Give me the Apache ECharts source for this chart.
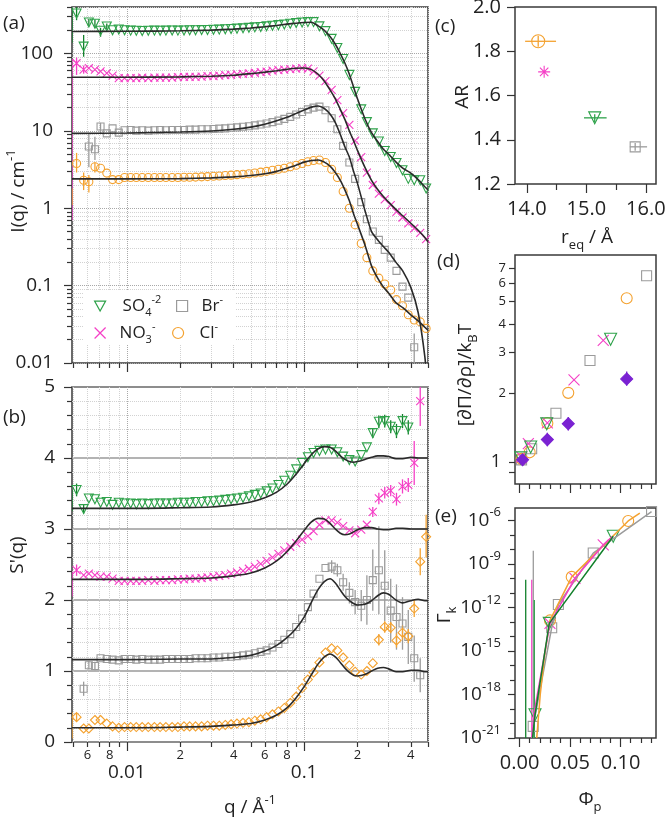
<!DOCTYPE html>
<html><head><meta charset="utf-8">
<script src="https://cdn.jsdelivr.net/npm/echarts@6/dist/echarts.min.js"></script>
<style>html,body{margin:0;padding:0;background:#fff}#c{width:666px;height:820px}</style>
</head><body><div id="c"></div><script>
// ---------------- DATA ----------------
const Q = [
 0.0052,0.0057,0.0061,0.0066,0.0071,0.0077,0.0083,0.0090,0.0097,0.0105,
 0.0113,0.0122,0.0132,0.0143,0.0154,0.0166,0.0180,0.0194,0.0210,0.0226,
 0.0244,0.0264,0.0285,0.0308,0.0332,0.0359,0.0387,0.0418,0.0452,0.0488,
 0.0527,0.0569,0.0614,0.0663,0.0716,0.0773,0.0835,0.0902,0.0974,0.105,
 0.113,0.122,0.132,0.143,0.154,0.166,0.180,0.194,0.210,0.226,
 0.244,0.264,0.285,0.308,0.332,0.359,0.387,0.418,0.452,0.488];
const I_SO4 = [
 330,123,252,243,197,224,200,205,200,198,
 197,196,197,198,197,198,199,198,199,200,
 200,201,202,203,204,206,208,210,212,215,
 218,221,225,229,233,238,243,248,252,255,
 255,225,195,155,118,85,53,32,19,13,
 9.3,7.3,5.5,4.6,3.85,3.1,2.4,2.3,2.3,1.8];
const I_NO3 = [
 75,62,65,62,59,56,52,48,48,48,
 48,49,48,49,49,49,49,49.5,50,50,
 50,50.5,51,51,52,52.5,53,54,54.5,55.5,
 56.5,57.5,58.5,60,61,62,63,64,65,64,
 59,52,44,34,25,17,12,7.5,4.6,2.9,
 2.0,1.55,1.3,1.1,0.9,0.76,0.64,0.55,0.48,0.4];
const I_BR = [
 null,null,6.3,5.8,11.4,9.3,10.8,9.5,10.2,10.3,
 10.1,10.2,10.1,10.2,10.3,10.2,10.3,10.3,10.3,10.4,
 10.4,10.5,10.5,10.6,10.7,10.8,11.0,11.1,11.3,11.5,
 11.8,12.1,12.5,13.0,13.6,14.3,15.2,16.3,17.6,19.0,
 20.0,20.6,18.5,14.6,10.5,6.4,3.9,2.4,1.2,0.72,
 0.5,0.39,0.29,0.23,0.155,0.097,0.07,0.016,null,null];
const I_CL = [
 3.8,2.3,2.2,3.45,3.3,2.85,2.35,2.35,2.5,2.5,
 2.5,2.5,2.5,2.5,2.5,2.5,2.5,2.5,2.52,2.52,
 2.53,2.55,2.57,2.6,2.62,2.65,2.68,2.72,2.76,2.8,
 2.86,2.93,3.0,3.1,3.2,3.3,3.45,3.6,3.8,4.0,
 4.15,4.2,3.9,3.2,2.5,1.65,1.0,0.61,0.35,0.23,
 0.155,0.125,0.105,0.088,0.066,0.055,0.042,0.036,0.034,0.028];
const S_SO4 = [
 3.55,3.28,3.43,3.42,3.37,3.38,3.34,3.37,3.36,3.36,
 3.35,3.36,3.35,3.36,3.36,3.36,3.36,3.37,3.37,3.37,
 3.38,3.38,3.39,3.39,3.40,3.41,3.42,3.43,3.44,3.46,
 3.48,3.50,3.53,3.57,3.62,3.68,3.75,3.84,3.93,4.01,
 4.07,4.10,4.12,4.12,4.08,4.02,3.97,3.95,4.04,4.15,
 4.35,4.51,4.52,4.44,4.38,4.52,4.43,null,null,null];
const S_NO3 = [
 2.42,2.35,2.37,2.35,2.33,2.33,2.30,2.27,2.27,2.27,
 2.27,2.27,2.28,2.27,2.28,2.28,2.28,2.29,2.29,2.30,
 2.30,2.31,2.32,2.33,2.34,2.35,2.37,2.39,2.41,2.44,
 2.47,2.51,2.55,2.60,2.65,2.70,2.75,2.80,2.85,2.90,
 2.97,3.06,3.12,3.12,3.09,3.04,2.98,2.94,2.99,3.06,
 3.24,3.43,3.51,3.54,3.42,3.60,3.62,3.93,4.80,null];
const S_BR = [
 null,0.75,1.08,1.07,1.18,1.17,1.16,1.15,1.17,1.17,
 1.16,1.17,1.16,1.16,1.16,1.17,1.17,1.17,1.17,1.17,
 1.18,1.18,1.18,1.19,1.19,1.20,1.20,1.21,1.22,1.23,
 1.25,1.27,1.29,1.33,1.38,1.44,1.52,1.62,1.74,1.90,
 2.09,2.30,2.45,2.47,2.42,2.25,2.10,1.97,1.92,2.00,
 2.28,2.42,2.20,1.85,1.76,1.67,1.48,1.18,0.94,null];
const S_CL = [
 0.35,0.19,0.19,0.31,0.31,0.26,0.22,0.20,0.21,0.21,
 0.21,0.21,0.21,0.21,0.21,0.21,0.21,0.21,0.22,0.22,
 0.22,0.22,0.23,0.23,0.23,0.24,0.25,0.26,0.27,0.28,
 0.30,0.32,0.35,0.39,0.43,0.48,0.55,0.64,0.76,0.88,
 0.98,1.12,1.26,1.32,1.29,1.19,1.08,0.99,0.95,1.00,
 1.11,1.44,1.62,1.61,1.43,1.54,1.49,1.88,2.54,2.89];

const QF = [0.0049,0.01,0.02,0.03,0.04,0.05,0.06,0.07,0.08,0.09,0.1,0.11,0.12,0.13,0.14,0.15,
            0.16,0.17,0.18,0.19,0.2,0.22,0.24,0.26,0.28,0.3,0.33,0.36,0.4,0.44,0.48,0.5];
const IF_SO4 = [193,194,197,201,207,214,222,231,240,247,252,254,228,200,166,132,100,75,54,37,26,14.5,9.5,7.3,5.8,5.0,3.95,3.3,2.85,2.35,1.9,1.72];
const IF_NO3 = [49.5,49.5,50,51,52.5,55,57.5,60,62.5,64.5,65,62,54,44,34,26,19,14,10,7.5,5.6,3.4,2.3,1.75,1.42,1.2,0.96,0.8,0.64,0.52,0.42,0.37];
const IF_BR  = [9.3,9.4,9.7,10.0,10.5,11.2,12.2,13.5,15.0,16.8,18.6,20.3,21.0,19.5,16.5,12.8,9.0,6.2,4.6,3.0,2.1,0.95,0.5,0.39,0.32,0.27,0.2,0.155,0.095,0.045,0.012,0.004];
const IF_CL  = [2.4,2.4,2.42,2.47,2.55,2.65,2.8,3.0,3.3,3.6,3.95,4.15,4.2,3.95,3.5,2.9,2.3,1.72,1.25,0.85,0.62,0.34,0.18,0.125,0.096,0.08,0.06,0.052,0.042,0.035,0.029,0.0265];
const SF_SO4 = [3.29,3.29,3.3,3.31,3.34,3.38,3.44,3.52,3.63,3.77,3.92,4.05,4.13,4.16,4.15,4.1,4.03,3.98,3.95,3.94,3.95,3.98,4.01,4.03,4.03,4.02,3.99,3.99,4.01,4.0,4.0,4.0];
const SF_NO3 = [2.29,2.29,2.3,2.31,2.34,2.38,2.45,2.55,2.68,2.83,2.98,3.1,3.15,3.14,3.08,3.0,2.94,2.92,2.93,2.96,2.99,3.02,3.02,3.0,2.99,2.99,3.01,3.01,3.0,3.0,3.0,3.0];
const SF_BR  = [1.16,1.16,1.17,1.17,1.19,1.22,1.28,1.36,1.47,1.6,1.76,1.97,2.15,2.26,2.3,2.24,2.14,2.05,1.99,1.95,1.93,1.94,1.99,2.06,2.1,2.08,2.0,1.96,1.99,2.01,1.99,1.99];
const SF_CL  = [0.2,0.2,0.21,0.22,0.24,0.26,0.31,0.38,0.48,0.62,0.78,0.95,1.1,1.2,1.24,1.2,1.12,1.04,0.98,0.94,0.93,0.95,1.0,1.04,1.05,1.03,0.99,0.99,1.01,1.01,0.99,0.99];

// error bars [q, low, high]
const EA_SO4 = [[0.0049,138,400],[0.0052,270,400],[0.0057,91,174],[0.0061,225,280],[0.0066,215,275],[0.0071,165,215],[0.0077,205,245]];
const EA_NO3 = [[0.0049,0.7,85],[0.0052,53,89],[0.0057,55,70]];
const EA_BR  = [[0.0061,3.4,9.4],[0.0066,4.2,8.4],[0.0071,9.4,12.7],[0.418,0.005,0.024]];
const EA_CL  = [[0.0049,1.1,1.8],[0.0052,2.9,5.2],[0.0057,1.72,2.9],[0.0061,1.6,2.7],[0.0066,2.9,3.9]];
const EB_SO4 = [[0.0049,3.25,3.55],[0.0052,3.46,3.64],[0.0057,3.22,3.34],[0.244,4.28,4.42],[0.264,4.42,4.6],[0.285,4.43,4.61],[0.308,4.35,4.53],[0.332,4.28,4.48],[0.359,4.42,4.62],[0.387,4.33,4.53]];
const EB_NO3 = [[0.0049,2.05,2.4],[0.0052,2.34,2.5],[0.244,3.17,3.31],[0.264,3.35,3.51],[0.285,3.43,3.59],[0.308,3.46,3.62],[0.332,3.33,3.51],[0.359,3.5,3.7],[0.387,3.52,3.72],[0.418,3.62,4.24],[0.452,4.45,5.15]];
const EB_BR  = [[0.0057,0.65,0.85],[0.0061,1.02,1.14],[0.0066,1.01,1.13],[0.143,2.38,2.56],[0.154,2.33,2.51],[0.166,2.13,2.37],[0.180,1.95,2.25],[0.194,1.8,2.14],[0.210,1.7,2.14],[0.226,1.65,2.35],[0.244,1.85,2.71],[0.264,1.8,3.04],[0.285,1.7,2.7],[0.308,1.4,2.3],[0.332,1.3,2.22],[0.359,1.3,2.04],[0.387,1.1,1.86],[0.418,0.85,1.5],[0.452,0.7,1.18]];
const EB_CL  = [[0.0049,0.05,0.42],[0.0052,0.29,0.41],[0.264,1.36,1.52],[0.285,1.54,1.7],[0.308,1.53,1.69],[0.332,1.33,1.53],[0.359,1.44,1.64],[0.387,1.39,1.59],[0.418,1.76,2.0],[0.452,2.35,2.73],[0.488,2.6,3.2]];

// panel (c): [r_eq, AR]
const C_CL = [[14.19,1.845]], C_NO3 = [[14.29,1.707]], C_SO4 = [[15.14,1.499]], C_BR = [[15.82,1.368]];
const CH_ERR = [[1.845,13.97,14.49,'cl'],[1.499,14.96,15.34,'so4'],[1.368,15.73,16.02,'br']];
const CV_ERR = [[14.19,1.82,1.87,'cl'],[15.14,1.48,1.515,'so4'],[15.82,1.35,1.385,'br']];

// panel (d): [phi_p, dPi/drho / kT]
const D_BR  = [[0.002,1.02],[0.012,1.14],[0.036,1.63],[0.0697,2.77],[0.1257,6.49]];
const D_CL  = [[0.002,1.03],[0.010,1.1],[0.0275,1.475],[0.0482,2.0],[0.106,5.18]];
const D_NO3 = [[0.002,1.05],[0.0087,1.2],[0.0275,1.48],[0.0539,2.28],[0.0828,3.39]];
const D_SO4 = [[0.0012,1.04],[0.011,1.16],[0.0269,1.465],[0.0901,3.43]];
const D_PUR = [[0.003,1.02],[0.0275,1.25],[0.0482,1.466],[0.106,2.3]];
const D_PUR_ERR = [[0.003,0.96,1.09],[0.0275,1.17,1.34],[0.0482,1.37,1.57],[0.106,2.15,2.48]];

// panel (e): [phi_p, log10(Gamma_k)]
const E_BR_PTS  = [[0.0135,-20.2],[0.0318,-13.4],[0.0384,-11.8],[0.0729,-8.26],[0.1306,-5.4]];
const E_CL_PTS  = [[0.0301,-12.9],[0.0516,-9.9],[0.1075,-6.05]];
const E_NO3_PTS = [[0.0301,-13.1],[0.0548,-10.0],[0.0828,-7.7]];
const E_SO4_PTS = [[0.0153,-19.4],[0.0294,-13.1],[0.0927,-7.1]];
const E_BR_LINE  = [[0.0135,-20.2],[0.0318,-13.4],[0.0384,-11.8],[0.0729,-8.26],[0.1306,-5.4]];
const E_CL_LINE  = [[0.017,-21.0],[0.0205,-18.0],[0.025,-15.2],[0.0301,-12.9],[0.0516,-9.9],[0.1075,-6.05],[0.119,-5.5]];
const E_NO3_LINE = [[0.0125,-21.0],[0.0143,-19.3],[0.0301,-13.1],[0.0548,-10.0],[0.0828,-7.7],[0.092,-7.1]];
const E_SO4_LINE = [[0.0128,-21.0],[0.0153,-19.4],[0.0294,-13.1],[0.0927,-7.1]];
const E_VBARS = [[0.0061,-21,-10.1,'dgreen'],[0.0121,-21,-10.1,'pink'],[0.0136,-21,-8.1,'gray'],[0.0146,-21,-11.5,'green']];

// tick label lists
const A_Y_LABELS = {'-2':'0.01','-1':'0.1','0':'1','1':'10','2':'100'};
const QX_MINOR_LABELS = [0.006,0.008,0.02,0.04,0.06,0.08,0.2,0.4];
const E_Y_LABELS = [-21,-18,-15,-12,-9,-6];

// ---------------- STYLE ----------------
const FONT = "'Open Sans','DejaVu Sans',sans-serif";
const COL = {green:'#2ea24a', dgreen:'#12802b', pink:'#f53fc6', gray:'#9b9b9b', orange:'#f4a230', purple:'#7a22d2', fit:'#2a2a2a', br:'#9b9b9b', cl:'#f4a230', so4:'#2ea24a'};
const SYM = {
  tri:'path://M0,0L10,0L5,9Z',
  cross:'path://M0,0L10,10M10,0L0,10',
  star:'path://M5,0L5,10M0,5L10,5M1.5,1.5L8.5,8.5M8.5,1.5L1.5,8.5'
};
const L10 = Math.log10;
const pairs = (xs, ys) => xs.map((x,i)=>[x,ys[i]]).filter(p=>p[1]!=null);
const p10 = arr => arr.map(p=>[p[0], Math.pow(10,p[1])]);
function logTicks(lo, hi, majors) {
  const out=[];
  for (let e=Math.floor(L10(lo))-1; e<=Math.ceil(L10(hi)); e++)
    for (let k=1;k<10;k++){ const v=k*Math.pow(10,e); if (v>=lo*0.9999 && v<=hi*1.0001) out.push(v); }
  return out.filter(v=>majors===undefined ? true : (majors ? Math.abs(L10(v)-Math.round(L10(v)))<1e-9 : Math.abs(L10(v)-Math.round(L10(v)))>1e-9)).map(v=>L10(v));
}

const dotMaj = {color:'#a8a8a8', type:'dotted', width:1};
const dotMin = {color:'#d2d2d2', type:'dotted', width:1};
const tickLine = {color:'#333', width:1.2};

function hiddenLog(gi, min, max){ return {type:'log', logBase:10, gridIndex:gi, min, max, show:false, axisLine:{onZero:false}}; }
function tAxis(gi, pos, min, max, ticks, len, label, split){
  return {type:'value', gridIndex:gi, position:pos, min, max, scale:false,
    axisLine:{show:false, onZero:false},
    axisTick:{show:true, customValues:ticks, length:len, inside:false, lineStyle:tickLine},
    axisLabel: label ? Object.assign({show:true, color:'#222', fontFamily:FONT, fontSize:19}, label) : {show:false},
    splitLine: split ? {show:true, lineStyle:split} : {show:false},
    minorTick:{show:false}, minorSplitLine:{show:false}, splitArea:{show:false}};
}

const QMIN=0.0049, QMAX=0.5;
const xs = [
  hiddenLog(0,QMIN,QMAX),
  tAxis(0,'bottom',L10(QMIN),L10(QMAX),[-2,-1],9,null,dotMaj),
  tAxis(0,'bottom',L10(QMIN),L10(QMAX),logTicks(QMIN,QMAX,false),5,null,dotMin),
  hiddenLog(1,QMIN,QMAX),
  tAxis(1,'bottom',L10(QMIN),L10(QMAX),[-2,-1],9,{customValues:[-2,-1],margin:21,formatter:v=>Math.round(v)===-2?'0.01':'0.1'},dotMaj),
  tAxis(1,'bottom',L10(QMIN),L10(QMAX),logTicks(QMIN,QMAX,false),5,{customValues:QX_MINOR_LABELS.map(L10),margin:7,fontSize:13,
        formatter:v=>String(Math.round(Math.pow(10, v-Math.floor(v+1e-9))))},dotMin),
  tAxis(2,'bottom',13.8,16.17,[14,15,16],9,{customValues:[14,15,16],margin:15,fontSize:20,formatter:v=>v.toFixed(1)},null),
  tAxis(2,'bottom',13.8,16.17,[14.5,15.5],6,null,null),
  tAxis(3,'bottom',-0.0045,0.135,[0,0.05,0.1],9,null,null),
  tAxis(3,'bottom',-0.0045,0.135,[0.01,0.02,0.03,0.04,0.06,0.07,0.08,0.09,0.11,0.12,0.13],5,null,null),
  tAxis(4,'bottom',-0.0045,0.135,[0,0.05,0.1],9,{customValues:[0,0.05,0.1],margin:15,fontSize:20,formatter:v=>v.toFixed(2)},null),
  tAxis(4,'bottom',-0.0045,0.135,[0.01,0.02,0.03,0.04,0.06,0.07,0.08,0.09,0.11,0.12,0.13],5,null,null)
];
const AYMIN=0.01, AYMAX=400, DYMIN=0.8, DYMAX=8, EYMIN=1e-21, EYMAX=7e-6;
const ys = [
  hiddenLog(0,AYMIN,AYMAX),
  tAxis(0,'left',L10(AYMIN),L10(AYMAX),[-2,-1,0,1,2],8,{customValues:[-2,-1,0,1,2],margin:19,formatter:v=>A_Y_LABELS[String(Math.round(v))]},dotMaj),
  tAxis(0,'left',L10(AYMIN),L10(AYMAX),logTicks(AYMIN,AYMAX,false),5,null,dotMin),
  tAxis(1,'left',0,5,[0,1,2,3,4,5],8,{customValues:[0,1,2,3,4,5],margin:17,formatter:v=>String(Math.round(v))},{color:'#9a9a9a',width:1.5,type:'solid'}),
  tAxis(1,'left',0,5,[0.2,0.4,0.6,0.8,1.2,1.4,1.6,1.8,2.2,2.4,2.6,2.8,3.2,3.4,3.6,3.8,4.2,4.4,4.6,4.8],5,null,dotMin),
  tAxis(2,'left',1.2,2.0,[1.2,1.4,1.6,1.8,2.0],8,{customValues:[1.2,1.4,1.6,1.8,2.0],margin:14,fontSize:20,formatter:v=>v.toFixed(1)},null),
  hiddenLog(3,DYMIN,DYMAX),
  tAxis(3,'left',L10(DYMIN),L10(DYMAX),[L10(0.9),0,L10(2),L10(3),L10(4),L10(5),L10(6),L10(7)],6,
        {customValues:[0,L10(2),L10(3),L10(4),L10(5),L10(6),L10(7)],margin:9,
         formatter:v=>{const n=Math.round(Math.pow(10,v)); return n===1?'{big|1}':'{sm|'+n+'}';},
         rich:{big:{fontSize:18,fontFamily:FONT,color:'#222',padding:[0,5,0,0]},sm:{fontSize:13,fontFamily:FONT,color:'#222'}}},null),
  hiddenLog(4,EYMIN,EYMAX),
  tAxis(4,'left',L10(EYMIN),L10(EYMAX),E_Y_LABELS,7,{customValues:E_Y_LABELS,margin:14,
         formatter:v=>'{b|10}{s|'+Math.round(v)+'}',
         rich:{b:{fontSize:19,fontFamily:FONT,color:'#222',lineHeight:28},s:{fontSize:13,fontFamily:FONT,color:'#222',lineHeight:12,verticalAlign:'top'}}},null),
  tAxis(4,'left',L10(EYMIN),L10(EYMAX),[-20,-19,-17,-16,-14,-13,-11,-10,-8,-7],5,null,null)
];

function scat(name, xi, yi, data, symbol, size, color, filled, z){
  return {type:'scatter', name, xAxisIndex:xi, yAxisIndex:yi, data, symbol, symbolSize:size, z:z||4, silent:true, clip:true,
    itemStyle:{color: filled?color:'rgba(255,255,255,0)', borderColor:color, borderWidth:1.1, opacity:1}};
}
function line(xi, yi, data, color, w, z, smooth){
  return {type:'line', xAxisIndex:xi, yAxisIndex:yi, data, showSymbol:false, symbol:'none', silent:true, clip:true,
    smooth: smooth||0, lineStyle:{color, width:w}, itemStyle:{color}, z:z||5};
}
function vbars(xi, yi, data, color){
  return {type:'custom', xAxisIndex:xi, yAxisIndex:yi, data, z:3, silent:true, clip:true,
    renderItem:(p, api)=>{
      const d = data[p.dataIndex];
      const a = api.coord([d[0], d[1]]), b = api.coord([d[0], d[2]]);
      const c = d[3] ? COL[d[3]] : color;
      return {type:'line', shape:{x1:a[0],y1:a[1],x2:b[0],y2:b[1]}, style:{stroke:c, lineWidth:1.3}};
    }};
}
function hbars(xi, yi, data){
  return {type:'custom', xAxisIndex:xi, yAxisIndex:yi, data, z:3, silent:true, clip:true,
    renderItem:(p, api)=>{
      const d = data[p.dataIndex];
      const a = api.coord([d[1], d[0]]), b = api.coord([d[2], d[0]]);
      return {type:'line', shape:{x1:a[0],y1:a[1],x2:b[0],y2:b[1]}, style:{stroke:COL[d[3]], lineWidth:1.3}};
    }};
}
const pexp = arr => arr.map(d=>[d[0], Math.pow(10,d[1]), Math.pow(10,d[2]), d[3]]);

const series = [
  // (a)
  vbars(0,0,EA_SO4,COL.dgreen), vbars(0,0,EA_NO3,COL.pink), vbars(0,0,EA_BR,COL.gray), vbars(0,0,EA_CL,COL.orange),
  scat('SO4',0,0,pairs(Q,I_SO4),SYM.tri,9,COL.green),
  scat('NO3',0,0,pairs(Q,I_NO3),SYM.cross,8,COL.pink),
  scat('Br',0,0,pairs(Q,I_BR),'rect',7,COL.gray),
  scat('Cl',0,0,pairs(Q,I_CL),'circle',8,COL.orange),
  line(0,0,pairs(QF,IF_SO4),COL.fit,1.6,6,0.2), line(0,0,pairs(QF,IF_NO3),COL.fit,1.6,6,0.2),
  line(0,0,pairs(QF,IF_BR),COL.fit,1.6,6,0.2), line(0,0,pairs(QF,IF_CL),COL.fit,1.6,6,0.2),
  // (b)
  vbars(3,3,EB_SO4,COL.dgreen), vbars(3,3,EB_NO3,COL.pink), vbars(3,3,EB_BR,COL.gray), vbars(3,3,EB_CL,COL.orange),
  scat('b_SO4',3,3,pairs(Q,S_SO4),SYM.tri,9,COL.green),
  scat('b_NO3',3,3,pairs(Q,S_NO3),SYM.cross,8,COL.pink),
  scat('b_Br',3,3,pairs(Q,S_BR),'rect',7,COL.gray),
  scat('b_Cl',3,3,pairs(Q,S_CL),'diamond',9,COL.orange),
  line(3,3,pairs(QF,SF_SO4),COL.fit,1.6,6,0.3), line(3,3,pairs(QF,SF_NO3),COL.fit,1.6,6,0.3),
  line(3,3,pairs(QF,SF_BR),COL.fit,1.6,6,0.3), line(3,3,pairs(QF,SF_CL),COL.fit,1.6,6,0.3),
  // (c)
  hbars(6,5,CH_ERR), vbars(6,5,CV_ERR),
  scat('c_Cl',6,5,C_CL,'circle',13,COL.orange),
  scat('c_NO3',6,5,C_NO3,SYM.star,12,COL.pink),
  scat('c_SO4',6,5,C_SO4,SYM.tri,12,COL.green),
  scat('c_Br',6,5,C_BR,'rect',10,COL.gray),
  // (d)
  vbars(8,6,D_PUR_ERR,COL.purple),
  scat('d_Br',8,6,D_BR,'rect',10,COL.gray),
  scat('d_Cl',8,6,D_CL,'circle',11,COL.orange),
  scat('d_NO3',8,6,D_NO3,SYM.cross,11,COL.pink),
  scat('d_SO4',8,6,D_SO4,SYM.tri,12,COL.green),
  scat('d_P',8,6,D_PUR,'diamond',12,COL.purple,true),
  // (e)
  vbars(10,8,pexp(E_VBARS),COL.gray),
  line(10,8,p10(E_BR_LINE),COL.gray,1.5,5), line(10,8,p10(E_CL_LINE),COL.orange,1.5,5),
  line(10,8,p10(E_NO3_LINE),COL.pink,1.5,5), line(10,8,p10(E_SO4_LINE),COL.dgreen,1.5,5),
  scat('e_Br',10,8,p10(E_BR_PTS),'rect',10,COL.gray),
  scat('e_Cl',10,8,p10(E_CL_PTS),'circle',11,COL.orange),
  scat('e_NO3',10,8,p10(E_NO3_PTS),SYM.cross,11,COL.pink),
  scat('e_SO4',10,8,p10(E_SO4_PTS),SYM.tri,12,COL.green)
];

const gridBase = {show:true, borderColor:'#3a3a3a', borderWidth:1.5, backgroundColor:'rgba(0,0,0,0)', containLabel:false, outerBoundsMode:'none'};
const grids = [
  Object.assign({left:72, top:7, width:356, height:356}, gridBase),
  Object.assign({left:72, top:387, width:356, height:355}, gridBase),
  Object.assign({left:515, top:7, width:141, height:177}, gridBase),
  Object.assign({left:515, top:255, width:141, height:229}, gridBase),
  Object.assign({left:515, top:508, width:141, height:230}, gridBase)
];

const LEG_TXT = {SO4:'{g1| }{t|SO}{sb|4}{sp|-2}', NO3:'{g2| }{t|NO}{sb|3}{sp|-}', Br:'{g3| }{t|Br}{sp|-}', Cl:'{g4| }{t|Cl}{sp|-}'};
const LEG_RICH = {
  t:{fontSize:17, lineHeight:24, color:'#222', fontFamily:FONT},
  sb:{fontSize:11, lineHeight:14, verticalAlign:'bottom', color:'#222', fontFamily:FONT},
  sp:{fontSize:11, lineHeight:12, verticalAlign:'top', color:'#222', fontFamily:FONT},
  g1:{width:12}, g2:{width:9}, g3:{width:9}, g4:{width:11}
};
function leg(name, left, top, icon, color){
  return {show:true, left, top, padding:0, itemWidth:11, itemHeight:11, itemGap:0, selectedMode:false, z:20, orient:'horizontal',
    data:[{name, icon, itemStyle:{color:'rgba(255,255,255,0)', borderColor:color, borderWidth:1.2}}],
    formatter:n=>LEG_TXT[n], textStyle:{fontFamily:FONT, color:'#222', rich:LEG_RICH}};
}

const TR = {
  n:{fontSize:19, lineHeight:28, fontFamily:FONT, fill:'#222'},
  sub:{fontSize:13, lineHeight:16, verticalAlign:'bottom', fontFamily:FONT, fill:'#222'},
  sup:{fontSize:13, lineHeight:14, verticalAlign:'top', fontFamily:FONT, fill:'#222'}
};
function txt(x, y, text, rot, align){
  return {type:'text', x, y, rotation: rot?Math.PI/2:0, z:30,
    style:{text, rich:TR, fill:'#222', fontSize:19, fontFamily:FONT, align:align||'center', verticalAlign:'middle'}};
}

const option = {
  animation:false,
  backgroundColor:'#fff',
  grid: grids, xAxis: xs, yAxis: ys, series,
  legend:[leg('SO4',94,294,SYM.tri,COL.green), leg('Br',176,294,'rect',COL.gray),
          leg('NO3',94,321,SYM.cross,COL.pink), leg('Cl',172,321,'circle',COL.orange)],
  graphic:[
    {type:'rect', shape:{x:84,y:291,width:152,height:54}, style:{fill:'#fff'}, z:10},
    txt(3,24,'{n|(a)}',false,'left'), txt(3,418,'{n|(b)}',false,'left'),
    txt(435,27,'{n|(c)}',false,'left'), txt(437,262,'{n|(d)}',false,'left'), txt(435,517,'{n|(e)}',false,'left'),
    txt(19,191,'{n|I(q) / cm}{sup|-1}',true),
    txt(18,555,"{n|S'(q)}",true),
    txt(250,808,'{n|q / Å}{sup|-1}'),
    txt(463,97,'{n|AR}',true),
    txt(587,238,'{n|r}{sub|eq}{n| / Å}'),
    txt(466,375,'{n|[∂Π/∂ρ]/k}{sub|B}{n|T}',true),
    txt(445,615,'{n|Γ}{sub|k}',true),
    txt(590,800,'{n|Φ}{sub|p}')
  ]
};
const chart = echarts.init(document.getElementById('c'), null, {renderer:'canvas'});
chart.setOption(option);
</script></body></html>
